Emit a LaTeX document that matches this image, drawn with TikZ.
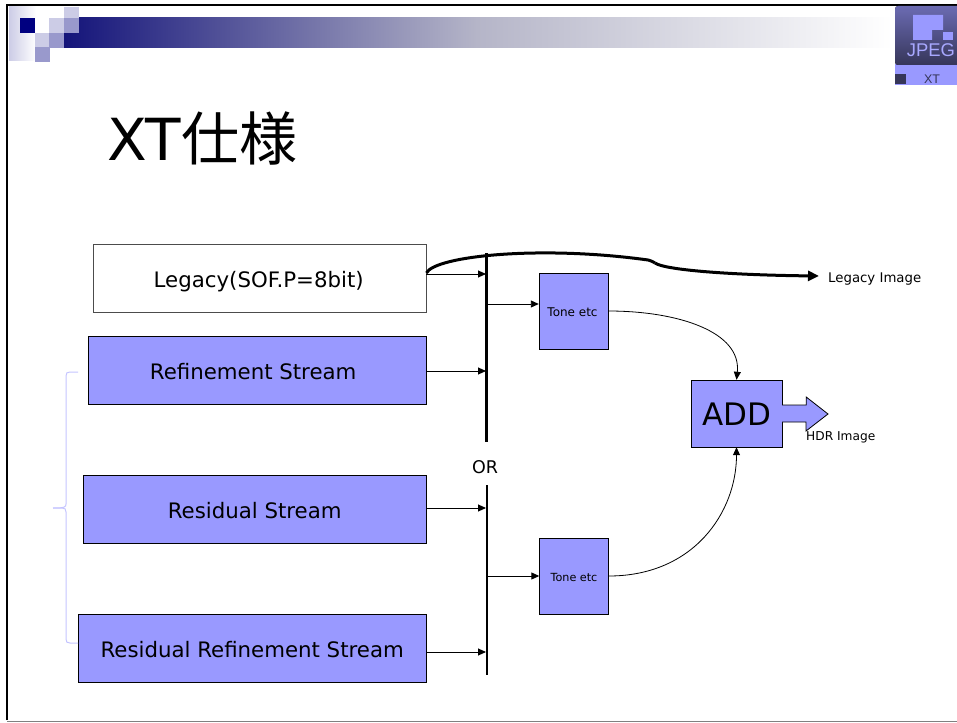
\documentclass[tikz,border=0pt]{standalone}
\usepackage{fontspec}
\setmainfont{DejaVu Sans}
\newfontfamily\cjk{Noto Sans CJK JP}
\newfontfamily\logofont{Liberation Sans}
\usetikzlibrary{arrows.meta, positioning, calc}
\definecolor{boxblue}{HTML}{9999FF}
\definecolor{palepurple}{HTML}{CCCCE6}
\definecolor{midpurple}{HTML}{9999CC}
\definecolor{barnavy}{HTML}{14147A}
\definecolor{barmid}{HTML}{B5B5C8}
\definecolor{bracepurple}{HTML}{C4C4FF}
\newcommand{\fsize}[1]{\fontsize{#1}{#1}\selectfont}
\tikzset{
    stream/.style={rectangle, draw=black, fill=boxblue, anchor=north west, inner sep=0pt, text height=19pt, text depth=0pt, font=\fsize{21.3}},
    tonebox/.style={rectangle, draw=black, fill=boxblue, inner sep=0pt, minimum width=69pt, minimum height=76pt, text height=10pt, text depth=0pt, font=\fsize{11.5}},
    arrow/.style={-{Triangle[length=8pt,width=7pt]}, line width=0.9pt},
    curved/.style={-{Triangle[length=8pt,width=7pt]}, line width=0.8pt},
    bus/.style={line width=2.2pt},
    square/.style={rectangle, minimum size=15pt, inner sep=0pt, anchor=north west}
}
\begin{document}
\begin{tikzpicture}[x=1pt,y=-1pt]
    \useasboundingbox (0,0) rectangle (957,722);

    % slide template
    \fill[left color=palepurple, right color=white] (9,7) rectangle (36,61);
    \fill[left color=barnavy, right color=barmid] (64,18) rectangle (477,48);
    \fill[left color=barmid, right color=white] (477,18) rectangle (892,48);
    \node (sq1) at (20,18) [square, fill=blue!50!black] {};
    \node (sq2) at (49,18) [square, fill=palepurple] {};
    \node (sq3) at (64,18) [square, fill=midpurple] {};
    \node (sq4) at (64,7) [square, minimum height=11pt, fill=palepurple] {};
    \node (sq5) at (35,33) [square, fill=palepurple] {};
    \node (sq6) at (49,33) [square, fill=midpurple] {};
    \node (sq7) at (35,47) [square, fill=midpurple] {};
    \draw[line width=2.5pt] (7,720) -- (7,5) -- (957,5);
    \draw[gray, line width=1pt] (7,721) -- (957,721);

    % logo
    \fill[boxblue] (895,64) rectangle (957,85);
    \fill[top color=boxblue!70!black, bottom color=boxblue!35!black, rounded corners=3pt] (895,6) rectangle (960,65);
    \fill[boxblue] (913,15) -- (943,15) -- (943,30) -- (932,30) -- (932,40) -- (913,40) -- cycle;
    \fill[boxblue] (943,32) rectangle (953,40);
    \fill[boxblue!35!black] (895,74) rectangle (906,84);
    \node (logotext) at (931,50) [text=boxblue!85!white, inner sep=0pt, font=\logofont\fsize{18.4}] {JPEG};
    \node (logoxt) at (932,79) [text=boxblue!35!black, inner sep=0pt, font=\logofont\fsize{12.5}] {XT};

    \node (title) at (107,138) [anchor=west, inner sep=0pt, font=\fsize{58}] {XT{\cjk 仕様}};

    \node (legacy) at (93,244) [stream, fill=white, draw=black!70, minimum width=333pt, minimum height=68pt] {Legacy(SOF.P=8bit)\kern2pt};
    \node (refine) at (88,336) [stream, minimum width=338pt, minimum height=68pt] {Refinement Stream\kern8pt};
    \node (residual) at (83,475) [stream, minimum width=343pt, minimum height=68pt] {Residual Stream};
    \node (resrefine) at (78,614) [stream, minimum width=348pt, minimum height=68pt] {Residual Refinement Stream};

    \node (tone1) at (573.5,311) [tonebox, font=\fsize{12}] {Tone etc\kern2pt};
    \node (tone2) at (574,576) [tonebox, font=\fsize{11.2}] {Tone etc};
    \node (add) at (736.5,413.5) [stream, anchor=center, minimum width=91pt, minimum height=67pt, text height=24pt, font=\fsize{31}] {ADD};

    \node (or) at (485,467) [inner sep=0pt, font=\fsize{17.5}] {OR};
    \node (legacyimg) at (828,279) [anchor=west, inner sep=0pt, font=\fsize{13.3}] {Legacy Image};
    \node (hdrimg) at (806,437) [anchor=west, inner sep=0pt, font=\fsize{12.2}] {HDR Image};

    % buses
    \coordinate (bus1top) at (486.5,253);
    \coordinate (bus1bot) at (486.5,442);
    \coordinate (bus2top) at (487,485);
    \coordinate (bus2bot) at (487,675);
    \draw[bus] (bus1top) -- (bus1bot);
    \draw[bus] (bus2top) -- (bus2bot);

    \draw[arrow] (legacy.east |- 0,274) -- (486,274);
    \draw[arrow] (refine.east |- 0,371) -- (486,371);
    \draw[arrow] (residual.east |- 0,508) -- (486,508);
    \draw[arrow] (resrefine.east |- 0,652) -- (486,652);
    \draw[arrow] (487,304) -- (tone1.west |- 0,304);
    \draw[arrow] (487,576) -- (tone2.west);

    \draw[curved] (tone1.east) .. controls +(70,0) and +(5,-48) .. (add.north);
    \draw[curved] (tone2.east) .. controls +(85,0) and +(0,65) .. (add.south);

    % legacy bypass
    \coordinate (bypass) at (655,263);
    \coordinate (legacyend) at (819,276);
    \draw[line width=3pt] (legacy.east |- 0,273) .. controls (435,256) and (540,245) .. (648,260) .. controls (652,261) and (653,262) .. (bypass);
    \draw[line width=3pt, -{Triangle[length=11pt,width=10pt]}] (bypass) .. controls (665,270) and (730,275) .. (legacyend);

    % output arrow
    \draw[fill=boxblue, line width=0.8pt] ([yshift=8.5pt]add.east) -- ++(24,0) -- ++(0,-8) -- (828,414) -- (806,431) -- ++(0,-9) -- ([yshift=-8.5pt]add.east);

    % bracket
    \coordinate (bracetop) at (78,372);
    \coordinate (bracebot) at (78,643);
    \coordinate (bracetip) at (53,508);
    \draw[bracepurple, line width=1pt] (bracetop) -- (70,372) .. controls (67,372) and (66,373) .. (66,376) -- (66,504) .. controls (66,507) and (65,508) .. (bracetip);
    \draw[bracepurple, line width=1pt] (bracetip) -- (62,508) .. controls (65,508) and (66,509) .. (66,512) -- (66,639) .. controls (66,642) and (67,643) .. (70,643) -- (bracebot);
\end{tikzpicture}
\end{document}
